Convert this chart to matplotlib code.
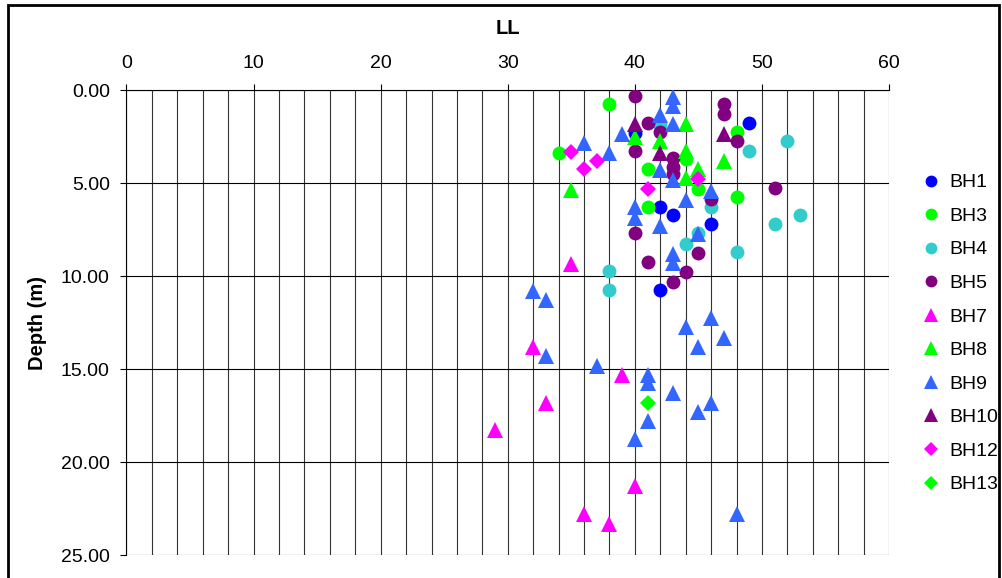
import matplotlib
matplotlib.use("Agg")
import matplotlib.pyplot as plt
from matplotlib.patches import Rectangle

plt.rcParams['font.family'] = ['Liberation Sans', 'DejaVu Sans']

# LL values and depths (m) per borehole
bh1_ll = [49, 42, 43, 46, 42, 40]
bh1_d = [1.75, 6.25, 6.7, 7.2, 10.75, 2.3]

bh3_ll = [38, 48, 34, 41, 44, 45, 48, 41]
bh3_d = [0.75, 2.25, 3.35, 4.25, 3.7, 5.3, 5.75, 6.25]

bh4_ll = [42, 49, 52, 46, 53, 51, 45, 44, 48, 38, 38]
bh4_d = [1.85, 3.25, 2.75, 6.25, 6.7, 7.2, 7.65, 8.25, 8.7, 9.7, 10.75]

bh5_ll = [40, 47, 47, 41, 42, 48, 40, 43, 43, 43, 46, 51, 40, 45, 41, 44, 43]
bh5_d = [0.3, 0.75, 1.25, 1.75, 2.25, 2.75, 3.25, 3.65, 4.1, 4.5,
         5.85, 5.25, 7.65, 8.75, 9.25, 9.75, 10.3]

bh7_ll = [35, 32, 39, 33, 29, 40, 36, 38]
bh7_d = [9.35, 13.8, 15.3, 16.8, 18.25, 21.3, 22.8, 23.3]

bh8_ll = [44, 40, 42, 44, 45, 44, 47, 35]
bh8_d = [1.8, 2.5, 2.75, 3.25, 4.25, 4.7, 3.8, 5.35]

bh9_ll = [43, 43, 42, 43, 39, 36, 38, 42, 43, 44, 46, 40, 40, 42, 45, 43, 43,
          32, 33, 46, 44, 47, 45, 33, 37, 41, 41, 43, 46, 45, 41, 40, 48]
bh9_d = [0.35, 0.85, 1.35, 1.8, 2.35, 2.85, 3.35, 4.3, 4.85, 5.9, 5.4, 6.3,
         6.85, 7.3, 7.7, 8.8, 9.3, 10.8, 11.3, 12.25, 12.75, 13.3, 13.8,
         14.3, 14.8, 15.3, 15.75, 16.3, 16.8, 17.3, 17.8, 18.75, 22.8]

bh10_ll = [40, 47, 42]
bh10_d = [1.8, 2.35, 3.35]

bh12_ll = [35, 37, 36, 45, 41]
bh12_d = [3.3, 3.8, 4.25, 4.75, 5.3]

bh13_ll = [41]
bh13_d = [16.8]

series = [
    ('BH1', bh1_ll, bh1_d, 'o', '#0000FF', 10),
    ('BH3', bh3_ll, bh3_d, 'o', '#00FF00', 10),
    ('BH4', bh4_ll, bh4_d, 'o', '#33CCCC', 10),
    ('BH5', bh5_ll, bh5_d, 'o', '#800080', 10),
    ('BH7', bh7_ll, bh7_d, '^', '#FF00FF', 11.5),
    ('BH8', bh8_ll, bh8_d, '^', '#00FF00', 11.5),
    ('BH9', bh9_ll, bh9_d, '^', '#3366FF', 11.5),
    ('BH10', bh10_ll, bh10_d, '^', '#800080', 11.5),
    ('BH12', bh12_ll, bh12_d, 'D', '#FF00FF', 8),
    ('BH13', bh13_ll, bh13_d, 'D', '#00FF00', 8),
]

fig = plt.figure(figsize=(10.03, 5.78), dpi=100)
ax = fig.add_axes([0.1261, 0.0393, 0.7603, 0.8045])

for name, xs, ys, m, c, ms in series:
    ax.plot(xs, ys, linestyle='none', marker=m, color=c, markersize=ms,
            markeredgewidth=0, label=name, zorder=3)

ax.set_xlim(0, 60)
ax.set_ylim(25, 0)
ax.xaxis.tick_top()
ax.xaxis.set_label_position('top')
ax.set_xticks(range(0, 61, 10))
ax.set_xticks(range(0, 61, 2), minor=True)
ax.set_yticks([0, 5, 10, 15, 20, 25])
ax.set_yticklabels(['%.2f' % v for v in [0, 5, 10, 15, 20, 25]])

ax.grid(True, which='both', axis='x', color='#333333', linewidth=0.8, zorder=1)
ax.grid(True, which='major', axis='y', color='black', linewidth=0.8, zorder=1)
ax.tick_params(axis='x', which='major', direction='out', length=4, width=0.8,
               labelsize=14, pad=9)
ax.tick_params(axis='x', which='minor', length=0)
ax.tick_params(axis='y', direction='out', length=4, width=0.8, labelsize=14, pad=8)

for s in ['right', 'bottom']:
    ax.spines[s].set_visible(False)
ax.spines['top'].set_linewidth(0.8)
ax.spines['left'].set_linewidth(0.8)
ax.set_axisbelow(True)

ax.set_xlabel('LL', fontsize=14.5, fontweight='bold', labelpad=15)
ax.set_ylabel('Depth (m)', fontsize=14.5, fontweight='bold', labelpad=10)

ax.legend(loc='center left', bbox_to_anchor=(0.919, 0.423),
          bbox_transform=fig.transFigure, frameon=False, fontsize=14,
          borderpad=0, borderaxespad=0, handlelength=1.0, handletextpad=0.4,
          labelspacing=0.82, markerscale=0.85)

fig.patches.append(Rectangle((8 / 1003, -0.1), 991 / 1003, 1.1 - 5 / 578,
                             transform=fig.transFigure, fill=False,
                             edgecolor='black', linewidth=2))

fig.savefig('out.png', dpi=100)
